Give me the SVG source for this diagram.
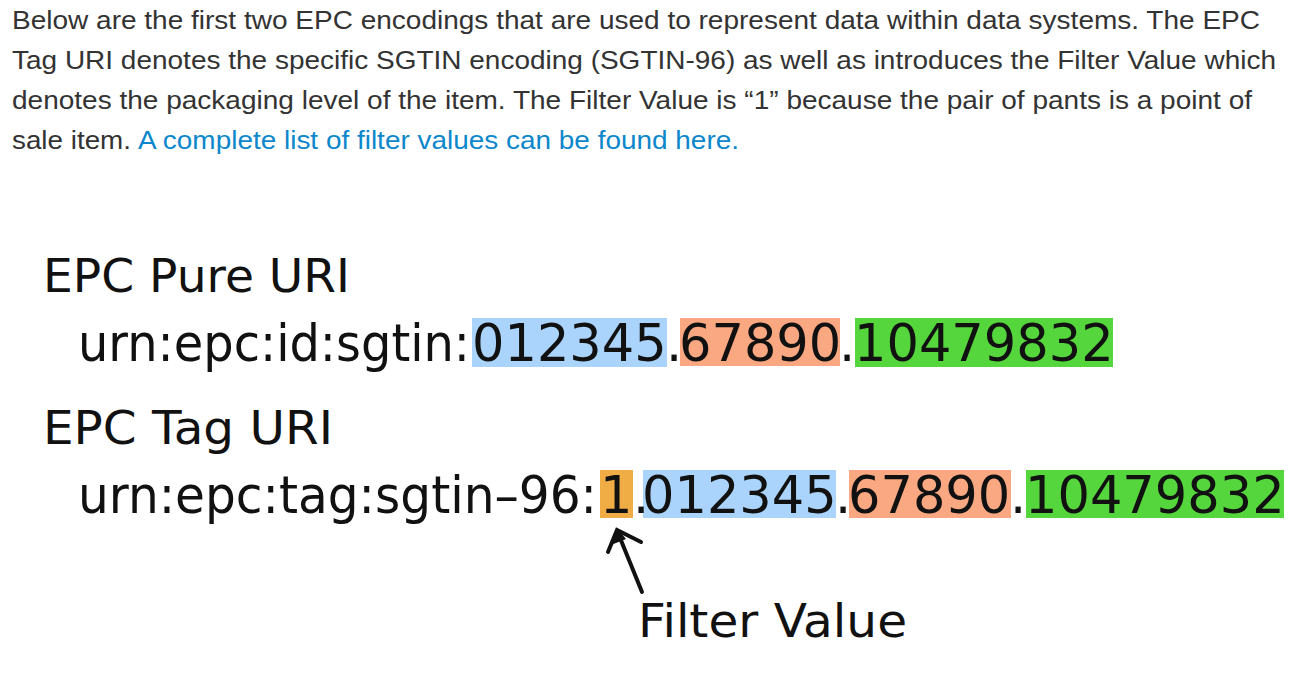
<svg xmlns="http://www.w3.org/2000/svg" width="1298" height="676" viewBox="0 0 1298 676">
<style>
.p{font-family:"Liberation Sans",Arial,sans-serif;font-size:26px;fill:#333}
.lnk{fill:#0d87cc}
.h{font-family:"DejaVu Sans","Noto Sans",sans-serif;font-size:47px;fill:#111}
.u{font-family:"DejaVu Sans","Noto Sans",sans-serif;font-size:51px;fill:#111}
.blue{fill:#aad4fb}
.sal{fill:#f9a882}
.grn{fill:#55d63c}
.org{fill:#f0ad45}
.arr{fill:none;stroke:#111;stroke-width:4;stroke-linecap:round;stroke-linejoin:miter}
</style>
<rect width="1298" height="676" fill="#fff"/>
<g id="intro">
<text class="p" x="12" y="29" textLength="1248" lengthAdjust="spacingAndGlyphs">Below are the first two EPC encodings that are used to represent data within data systems. The EPC</text>
<text class="p" x="12" y="69" textLength="1264" lengthAdjust="spacingAndGlyphs">Tag URI denotes the specific SGTIN encoding (SGTIN-96) as well as introduces the Filter Value which</text>
<text class="p" x="12" y="109" textLength="1240" lengthAdjust="spacingAndGlyphs">denotes the packaging level of the item. The Filter Value is “1” because the pair of pants is a point of</text>
<text class="p" x="12" y="149" textLength="119" lengthAdjust="spacingAndGlyphs">sale item.</text>
<text class="p lnk" x="138" y="149" textLength="601" lengthAdjust="spacingAndGlyphs">A complete list of filter values can be found here.</text>
</g>
<g id="pure-uri">
<text class="h" x="43" y="292" textLength="307" lengthAdjust="spacingAndGlyphs">EPC Pure URI</text>
<rect class="blue" x="472" y="318" width="195" height="49"/>
<rect class="sal" x="680" y="318" width="160" height="48"/>
<rect class="grn" x="855" y="318" width="258" height="49"/>
<text class="u" x="78" y="361" textLength="392" lengthAdjust="spacingAndGlyphs">urn:epc:id:sgtin:</text>
<text class="u" y="361"><tspan x="472">012345</tspan><tspan x="666">.</tspan><tspan x="679">67890</tspan><tspan x="839">.</tspan><tspan x="854">10479832</tspan></text>
</g>
<g id="tag-uri">
<text class="h" x="43" y="444" textLength="290" lengthAdjust="spacingAndGlyphs">EPC Tag URI</text>
<rect class="org" x="600" y="470" width="33" height="48"/>
<rect class="blue" x="643" y="470" width="193" height="48"/>
<rect class="sal" x="849" y="470" width="162" height="48"/>
<rect class="grn" x="1026" y="470" width="258" height="48"/>
<text class="u" x="78" y="513" textLength="519" lengthAdjust="spacingAndGlyphs">urn:epc:tag:sgtin–96:</text>
<text class="u" y="513"><tspan x="600">1</tspan><tspan x="633">.</tspan><tspan x="642">012345</tspan><tspan x="835">.</tspan><tspan x="848">67890</tspan><tspan x="1010">.</tspan><tspan x="1025">10479832</tspan></text>
</g>
<g id="filter-label">
<text class="h" x="638" y="637" textLength="269" lengthAdjust="spacingAndGlyphs">Filter Value</text>
</g>
<g id="connectors">
<path class="arr" d="M642 592 L618 533"/>
<path class="arr" d="M608 552 L617 530 L641 542"/>
<polygon points="617,528 611,545 626,539" fill="#111"/>
</g>
</svg>
